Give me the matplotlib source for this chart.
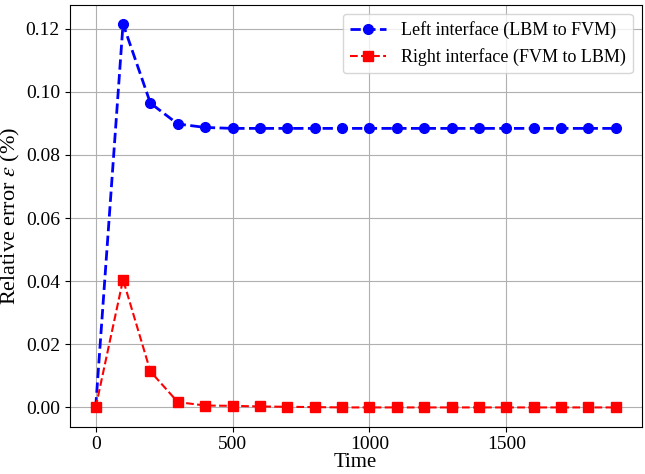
import matplotlib
matplotlib.use("Agg")
import matplotlib.pyplot as plt
import numpy as np

plt.rcParams['font.family'] = 'serif'
plt.rcParams['font.serif'] = ['Liberation Serif', 'DejaVu Serif']
plt.rcParams['mathtext.fontset'] = 'stix'
plt.rcParams['font.size'] = 13

# Time steps
time = np.arange(0, 2000, 100)

# Relative error at the two interfaces
left_err = [0.0, 0.1215, 0.0964, 0.0898, 0.0887, 0.0884, 0.0884, 0.0884, 0.0884, 0.0884,
            0.0884, 0.0884, 0.0884, 0.0884, 0.0884, 0.0884, 0.0884, 0.0884, 0.0884, 0.0884]
right_err = [0.0, 0.0405, 0.0114, 0.0017, 0.0006, 0.0005, 0.0003, 0.0002, 0.0001, 0.0,
             0.0, 0.0, 0.0, 0.0, 0.0, 0.0, 0.0, 0.0, 0.0, 0.0]

fig, ax = plt.subplots(figsize=(6.45, 4.74), dpi=100)
ax.plot(time, left_err, 'b--o', lw=2, ms=7, label='Left interface (LBM to FVM)')
ax.plot(time, right_err, 'r--s', lw=1.5, ms=7, label='Right interface (FVM to LBM)')

ax.set_xlabel('Time', fontsize=15, labelpad=0)
ax.set_ylabel(r'Relative error $\varepsilon$ (%)', fontsize=16, labelpad=3)
ax.set_xticks([0, 500, 1000, 1500])
ax.tick_params(labelsize=14)
ax.grid(True)
ax.legend(loc='upper right', fontsize=13)

plt.subplots_adjust(left=0.108, right=0.995, top=0.99, bottom=0.1)
plt.savefig('out.png')
